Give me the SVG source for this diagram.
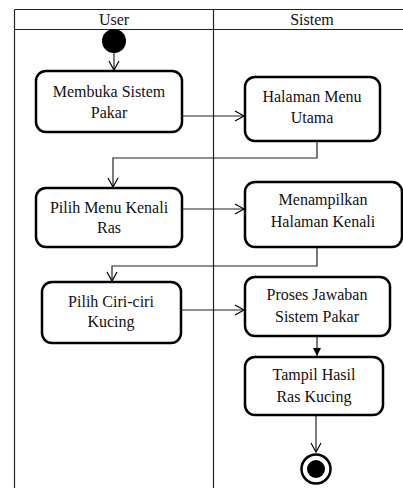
<svg xmlns="http://www.w3.org/2000/svg" width="403" height="488" viewBox="0 0 403 488">
<defs>
<marker id="arr" markerWidth="12" markerHeight="12" refX="10" refY="6" orient="auto" markerUnits="userSpaceOnUse">
<path d="M1,1 L10,6 L1,11" fill="none" stroke="#000" stroke-width="1.2"/>
</marker>
<marker id="arrf" markerWidth="10" markerHeight="10" refX="8" refY="5" orient="auto" markerUnits="userSpaceOnUse">
<path d="M0,1 L8,5 L0,9 Z" fill="#000"/>
</marker>
</defs>
<style>
.frame{stroke:#222;stroke-width:1.2;fill:none}
.node{fill:#fff;stroke:#000;stroke-width:2.5}
.t{font-family:"Liberation Serif","Times New Roman",serif;font-size:16px;fill:#111;text-anchor:middle}
.c{fill:none;stroke:#222;stroke-width:1.2}
</style>
<g id="swimlanes">
<line class="frame" x1="14.5" y1="9.5" x2="403" y2="9.5"/>
<line class="frame" x1="14.5" y1="29.5" x2="403" y2="29.5"/>
<line class="frame" x1="14.5" y1="9.5" x2="14.5" y2="488"/>
<line class="frame" x1="213.5" y1="9.5" x2="213.5" y2="488"/>
<text class="t" x="114" y="25">User</text>
<text class="t" x="312" y="25">Sistem</text>
</g>
<g id="connectors">
<line class="c" x1="114" y1="53" x2="114" y2="70" marker-end="url(#arr)"/>
<line class="c" x1="182" y1="116" x2="244" y2="116" marker-end="url(#arr)"/>
<polyline class="c" points="317,141 317,158 113,158 113,187" marker-end="url(#arr)"/>
<line class="c" x1="182" y1="209" x2="244" y2="209" marker-end="url(#arr)"/>
<polyline class="c" points="317,247 317,266 112,266 112,281" marker-end="url(#arr)"/>
<line class="c" x1="181" y1="310" x2="244" y2="310" marker-end="url(#arr)"/>
<line class="c" x1="317" y1="336" x2="317" y2="356" marker-end="url(#arrf)"/>
<line class="c" x1="316" y1="415" x2="316" y2="452" marker-end="url(#arr)"/>
</g>
<g id="start"><circle cx="114" cy="41" r="12" fill="#000"/></g>
<g id="n1">
<rect class="node" x="36" y="71" width="146" height="61" rx="10"/>
<text class="t" x="109" y="97">Membuka Sistem</text>
<text class="t" x="109" y="118">Pakar</text>
</g>
<g id="n2">
<rect class="node" x="245" y="77" width="135" height="64" rx="10"/>
<text class="t" x="312" y="102">Halaman Menu</text>
<text class="t" x="312" y="123">Utama</text>
</g>
<g id="n3">
<rect class="node" x="36" y="188" width="146" height="59" rx="10"/>
<text class="t" x="109" y="213">Pilih Menu Kenali</text>
<text class="t" x="109" y="233">Ras</text>
</g>
<g id="n4">
<rect class="node" x="245" y="182" width="157" height="65" rx="10"/>
<text class="t" x="323" y="205">Menampilkan</text>
<text class="t" x="323" y="227">Halaman Kenali</text>
</g>
<g id="n5">
<rect class="node" x="42" y="282" width="139" height="61" rx="10"/>
<text class="t" x="111" y="307">Pilih Ciri-ciri</text>
<text class="t" x="111" y="327">Kucing</text>
</g>
<g id="n6">
<rect class="node" x="245" y="277" width="145" height="59" rx="10"/>
<text class="t" x="317" y="300">Proses Jawaban</text>
<text class="t" x="317" y="322">Sistem Pakar</text>
</g>
<g id="n7">
<rect class="node" x="245" y="357" width="138" height="58" rx="10"/>
<text class="t" x="314" y="380">Tampil Hasil</text>
<text class="t" x="314" y="402">Ras Kucing</text>
</g>
<g id="end">
<circle cx="316" cy="469" r="14.5" fill="#fff" stroke="#000" stroke-width="2.5"/>
<circle cx="316" cy="469" r="9" fill="#000"/>
</g>
</svg>
